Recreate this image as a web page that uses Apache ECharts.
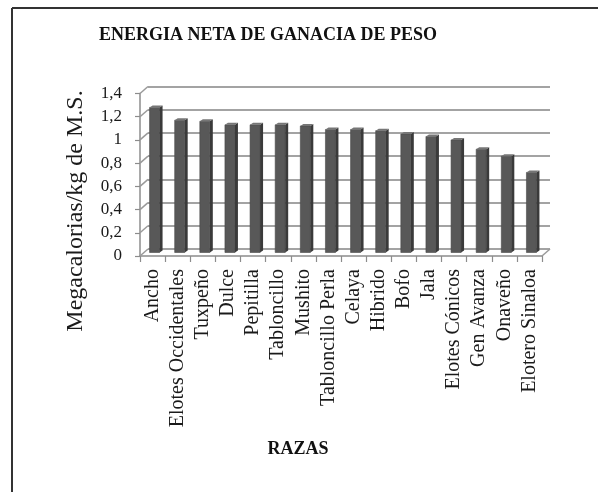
<!DOCTYPE html>
<html>
<head>
<meta charset="utf-8">
<script src="https://cdn.jsdelivr.net/npm/echarts@6/dist/echarts.min.js"></script>
<style>
html,body{margin:0;padding:0;background:#fff;}
#chart{width:598px;height:492px;}
</style>
</head>
<body>
<div id="chart"></div>
<script>
const chartTitle = 'ENERGIA NETA DE GANACIA DE PESO';
const xTitle = 'RAZAS';
const yTitle = 'Megacalorias/kg de M.S.';
const categories = ['Ancho','Elotes Occidentales','Tuxpeño','Dulce','Pepitilla','Tabloncillo','Mushito','Tabloncillo Perla','Celaya','Hibrido','Bofo','Jala','Elotes Cónicos','Gen Avanza','Onaveño','Elotero Sinaloa'];
const values = [1.25,1.14,1.13,1.10,1.10,1.10,1.09,1.06,1.06,1.05,1.02,1.00,0.97,0.89,0.83,0.69];
const yTicks = [0,0.2,0.4,0.6,0.8,1.0,1.2,1.4];
const yMin = 0, yMax = 1.4, yStep = 0.2;

const FONT = 'Liberation Serif';
const chart = echarts.init(document.getElementById('chart'));

const gridBase = {width:402, height:162.5, containLabel:false, outerBoundsMode:'none'};
const option = {
  animation:false,
  backgroundColor:'#ffffff',
  grid:[
    Object.assign({left:148, top:86.5}, gridBase),
    Object.assign({left:142, top:90}, gridBase),
    Object.assign({left:140, top:93.5}, gridBase)
  ],
  xAxis:[
    {type:'category', gridIndex:0, data:categories, axisLine:{show:false}, axisTick:{show:false}, axisLabel:{show:false}, splitLine:{show:false}},
    {type:'category', gridIndex:1, data:categories, show:false},
    {type:'category', gridIndex:2, data:categories,
      axisLine:{show:true, lineStyle:{color:'#8c8c8c', width:1.5}},
      axisTick:{show:true, length:6, lineStyle:{color:'#8c8c8c', width:1.2}},
      axisLabel:{show:true, interval:0, rotate:90, margin:13, fontFamily:FONT, fontSize:20, color:'#1a1a1a'},
      splitLine:{show:false}}
  ],
  yAxis:[
    {type:'value', gridIndex:0, min:yMin, max:yMax, interval:yStep,
      axisLine:{show:false}, axisTick:{show:false}, axisLabel:{show:false},
      splitLine:{show:true, lineStyle:{color:'#a3a3a3', width:1.8}}},
    {type:'value', gridIndex:1, min:yMin, max:yMax, interval:yStep, show:false, splitLine:{show:false}},
    {type:'value', gridIndex:2, min:yMin, max:yMax, interval:yStep,
      axisLine:{show:true, lineStyle:{color:'#8c8c8c', width:1.5}},
      axisTick:{show:true, length:5, lineStyle:{color:'#8c8c8c', width:1.2}},
      axisLabel:{show:true, margin:18, fontFamily:FONT, fontSize:17, color:'#1a1a1a',
        formatter:function(v){return String(Math.round(v*10)/10).replace('.',',');}},
      splitLine:{show:false}}
  ],
  series:[
    {
      type:'custom', xAxisIndex:2, yAxisIndex:2, silent:true,
      data: yTicks.map(v => [0, v, 0]).concat([[categories.length-1, 0, 1]]),
      renderItem:function(params, api){
        const p = api.coord([api.value(0), api.value(1)]);
        const bw = api.size([1,0])[0];
        const x = api.value(2) ? p[0] + bw/2 : p[0] - bw/2;
        return {type:'line', shape:{x1:x, y1:p[1], x2:x+8, y2:p[1]-7},
          style:{stroke:'#9a9a9a', lineWidth:1.5}};
      }
    },
    {
      type:'custom', xAxisIndex:1, yAxisIndex:1, silent:true,
      data: values.map((v,i) => [i, v]),
      renderItem:function(params, api){
        const top = api.coord([api.value(0), api.value(1)]);
        const base = api.coord([api.value(0), 0]);
        const w = 10, dx = 3, dy = 2;
        const x0 = top[0] - w/2;
        return {type:'group', children:[
          {type:'rect', shape:{x:x0, y:top[1], width:w, height:base[1]-top[1]}, style:{fill:'#585858', stroke:'#4a4a4a', lineWidth:0.6}},
          {type:'polygon', shape:{points:[[x0+w, top[1]],[x0+w+dx, top[1]-dy],[x0+w+dx, base[1]-dy],[x0+w, base[1]]]}, style:{fill:'#3a3a3a'}},
          {type:'polygon', shape:{points:[[x0, top[1]],[x0+dx, top[1]-dy],[x0+w+dx, top[1]-dy],[x0+w, top[1]]]}, style:{fill:'#767676'}}
        ]};
      }
    }
  ],
  graphic:[
    {type:'line', shape:{x1:12, y1:8, x2:598, y2:8}, style:{stroke:'#333', lineWidth:2}},
    {type:'line', shape:{x1:12, y1:8, x2:12, y2:492}, style:{stroke:'#333', lineWidth:2}},
    {type:'text', x:268, y:35, style:{text:chartTitle, font:'bold 18px "Liberation Serif"', fill:'#111', align:'center', verticalAlign:'middle'}},
    {type:'text', x:298, y:449, style:{text:xTitle, font:'bold 18px "Liberation Serif"', fill:'#111', align:'center', verticalAlign:'middle'}},
    {type:'text', x:76, y:211, rotation:Math.PI/2, style:{text:yTitle, font:'24px "Liberation Serif"', fill:'#1a1a1a', align:'center', verticalAlign:'middle'}}
  ]
};
chart.setOption(option);
</script>
</body>
</html>
